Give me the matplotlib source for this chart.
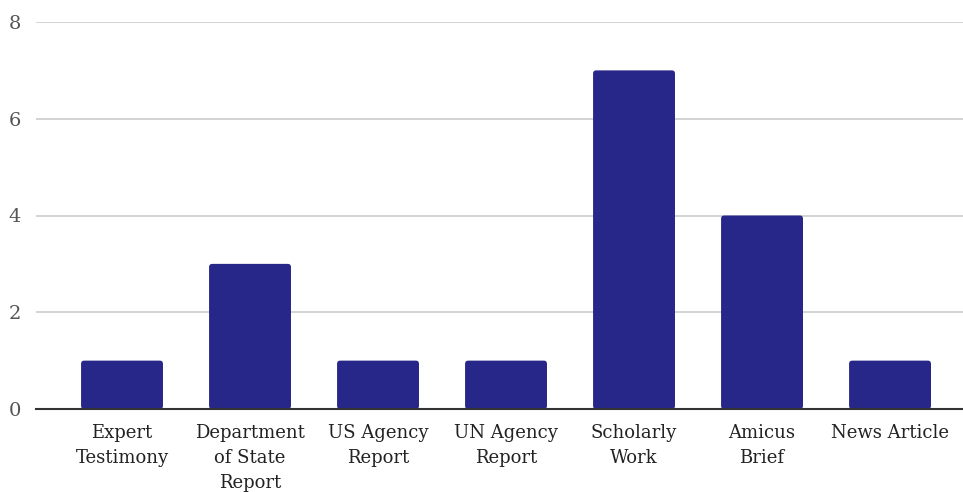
import matplotlib
matplotlib.use("Agg")
import matplotlib.pyplot as plt
from matplotlib.patches import FancyBboxPatch

categories = ["Expert\nTestimony", "Department\nof State\nReport", "US Agency\nReport",
              "UN Agency\nReport", "Scholarly\nWork", "Amicus\nBrief", "News Article"]
values = [1, 3, 1, 1, 7, 4, 1]
yticks = [0, 2, 4, 6, 8]

plt.rcParams['font.family'] = ['DejaVu Serif']

fig = plt.figure(figsize=(9.63, 4.92), dpi=100)
ax = fig.add_axes([36/963, 83/492, 1 - 36/963, (409-22)/492])

color = "#27278a"
bars = ax.bar(range(len(values)), values, width=0.64, color=color, zorder=3)
for b in bars:
    x, y = b.get_x(), b.get_y()
    w, h = b.get_width(), b.get_height()
    b.set_visible(False)
    p = FancyBboxPatch((x, y), w, h, boxstyle="round,pad=0,rounding_size=0.025",
                       mutation_aspect=128/48.4, facecolor=color, edgecolor="none", zorder=3)
    ax.add_patch(p)

ax.set_xlim(-0.672, 6.57)
ax.set_ylim(0, 8)
ax.set_yticks(yticks)
ax.set_yticklabels([str(v) for v in yticks], color="#555555", fontsize=14)
ax.set_xticks(range(len(categories)))
ax.set_xticklabels(categories, fontsize=13, color="#222222", linespacing=1.5, va="top")
ax.tick_params(axis="both", length=0)
ax.tick_params(axis="x", pad=11)
ax.tick_params(axis="y", pad=11)
for s in ["top", "right", "left"]:
    ax.spines[s].set_visible(False)
ax.spines["bottom"].set_color("#333333")
ax.spines["bottom"].set_linewidth(1.5)
ax.spines["bottom"].set_zorder(4)
ax.yaxis.grid(True, color="#cccccc", linewidth=1.2, zorder=0)
ax.set_axisbelow(True)

fig.savefig("out.png", dpi=100)
